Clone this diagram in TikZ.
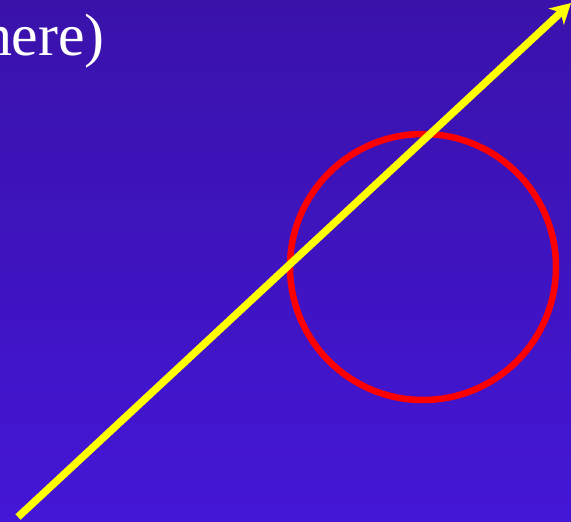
\documentclass[tikz,border=0pt]{standalone}
\usepackage{fontspec}
\setmainfont{Liberation Serif}
\usetikzlibrary{arrows.meta}
\definecolor{bgtop}{RGB}{58,18,170}
\definecolor{bgbot}{RGB}{68,22,214}
\definecolor{ringred}{RGB}{255,0,0}
\definecolor{rayyellow}{RGB}{255,255,0}
\tikzset{
  ring/.style={draw=ringred, line width=6.5bp, circle, minimum size=266bp, inner sep=0pt},
  ray/.style={draw=rayyellow, line width=7.5bp, -{Stealth[length=20bp,width=22bp,inset=6bp]}},
  caption/.style={text=white, font=\fontsize{60}{62}\selectfont, inner sep=0pt}
}
\begin{document}
\begin{tikzpicture}[x=1bp,y=-1bp]
\shade[top color=bgtop, bottom color=bgbot] (0,0) rectangle (571,522);
\useasboundingbox (0,0) rectangle (571,522);
\node[caption, anchor=base east] (txt) at (105,56) {here)};
\node[ring] (circ) at (423,267) {};
\coordinate (rayA) at (18,517);
\coordinate (rayB) at (571,3);
\draw[ray] (rayA) -- (rayB);
\end{tikzpicture}
\end{document}
